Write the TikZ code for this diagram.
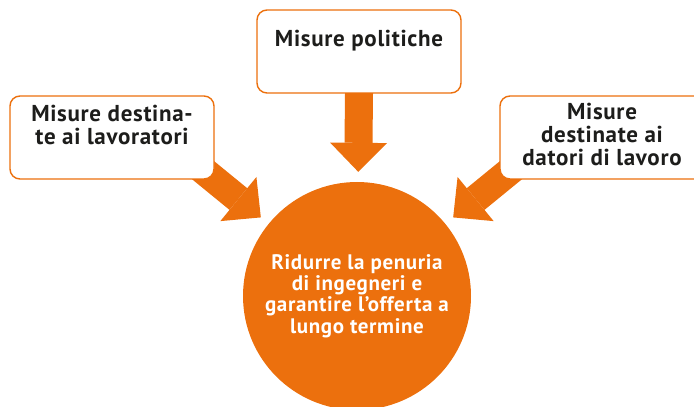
\documentclass[tikz,border=0pt]{standalone}
\usepackage{fontspec}
\setmainfont{PT Sans}[LetterSpace=3]
\usetikzlibrary{arrows.meta,backgrounds}
\definecolor{orng}{RGB}{236,112,13}
\definecolor{ink}{RGB}{29,29,27}
\tikzset{
  box/.style={draw=orng, line width=1.4pt, fill=white, rounded corners=10pt,
    minimum width=204pt, minimum height=83pt, inner sep=0pt},
  boxtext/.style={anchor=north, align=center, inner sep=0pt, text=ink,
    font=\bfseries\fontsize{23}{23}\selectfont},
  goal/.style={circle, fill=orng, minimum size=228pt, inner sep=0pt, align=center,
    text=white, font=\bfseries\fontsize{21}{21.3}\selectfont},
  fat/.style={orng, line width=28pt, shorten >=10pt,
    -{Triangle[width=57pt,length=29pt,line width=0pt]}},
}

\begin{document}
\begin{tikzpicture}[x=1pt,y=1pt]
        \useasboundingbox (0,0) rectangle (694,407);
        \node[goal, xshift=-4pt] (C) at (361,111) {Ridurre la penuria\\di ingegneri e\\garantire l’offerta a\\lungo termine};
        \node[box, label={[boxtext, yshift=-10pt]north:{Misure destina-\\te ai lavoratori}}] (L) at (112,269.5) {};
        \node[box, label={[boxtext, yshift=-21pt]north:{Misure politiche}}] (T) at (359,355.5) {};
        \node[box, label={[boxtext, yshift=-8pt]north:{Misure\\destinate ai\\datori di lavoro}}] (R) at (602,269.5) {};
        % fat arrows go behind the boxes
        \begin{scope}[on background layer]
        \draw [fat, shorten <=-25pt] (L.south east) -- (C);
        \draw [fat, shorten <=-10pt] (T.south) -- (C);
        \draw [fat, shorten <=-25pt] (R.south west) -- (C);
        \end{scope}
\end{tikzpicture}
\end{document}
